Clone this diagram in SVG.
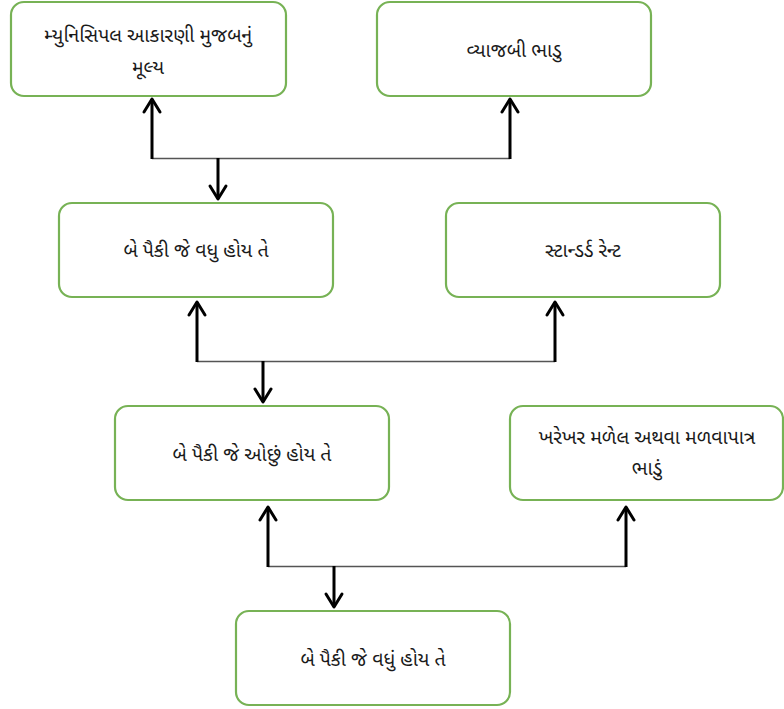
<svg xmlns="http://www.w3.org/2000/svg" width="784" height="709" viewBox="0 0 784 709">
<style>
.box{fill:#fff;stroke:#77b255;stroke-width:2.2}
.t{font-family:"Noto Sans Gujarati","Noto Sans","DejaVu Sans",sans-serif;font-size:19.5px;fill:#1a1a1a;text-anchor:middle;dominant-baseline:central}
.v{stroke:#000;stroke-width:3;fill:none}
.h{stroke:#555;stroke-width:1.6;fill:none}
.ah{stroke:#000;stroke-width:3;fill:none;stroke-linecap:round;stroke-linejoin:round}
</style>
<rect width="784" height="709" fill="#fff"/>
<g id="n1"><rect class="box" x="11" y="2" width="275" height="94" rx="13"/><text class="t" x="148" y="37">મ્યુનિસિપલ આકારણી મુજબનું</text><text class="t" x="148" y="69">મૂલ્ય</text></g>
<g id="n2"><rect class="box" x="377" y="2" width="274" height="94" rx="13"/><text class="t" x="514" y="52">વ્યાજબી ભાડુ</text></g>
<g id="n3"><rect class="box" x="59" y="203" width="274" height="94" rx="13"/><text class="t" x="196" y="252">બે પૈકી જે વધુ હોય તે</text></g>
<g id="n4"><rect class="box" x="446" y="203" width="274" height="94" rx="13"/><text class="t" x="583" y="252">સ્ટાન્ડર્ડ રેન્ટ</text></g>
<g id="n5"><rect class="box" x="115" y="406" width="274" height="94" rx="13"/><text class="t" x="252" y="456">બે પૈકી જે ઓછું હોય તે</text></g>
<g id="n6"><rect class="box" x="510" y="406" width="273" height="94" rx="13"/><text class="t" x="647" y="439">ખરેખર મળેલ અથવા મળવાપાત્ર</text><text class="t" x="647" y="470">ભાડું</text></g>
<g id="n7"><rect class="box" x="236" y="611" width="274" height="94" rx="13"/><text class="t" x="373" y="661">બે પૈકી જે વધું હોય તે</text></g>
<g id="connectors">
<line class="h" x1="152" y1="158.5" x2="510" y2="158.5"/>
<line class="v" x1="152" y1="159" x2="152" y2="99"/><path class="ah" d="M144 112 L152 99 L160 112"/>
<line class="v" x1="510" y1="159" x2="510" y2="99"/><path class="ah" d="M502 112 L510 99 L518 112"/>
<line class="v" x1="218" y1="158" x2="218" y2="199"/><path class="ah" d="M210 186 L218 199 L226 186"/>
<line class="h" x1="197" y1="361.5" x2="555" y2="361.5"/>
<line class="v" x1="197" y1="362" x2="197" y2="302"/><path class="ah" d="M189 315 L197 302 L205 315"/>
<line class="v" x1="555" y1="362" x2="555" y2="302"/><path class="ah" d="M547 315 L555 302 L563 315"/>
<line class="v" x1="263" y1="361" x2="263" y2="402"/><path class="ah" d="M255 389 L263 402 L271 389"/>
<line class="h" x1="268" y1="566.5" x2="626" y2="566.5"/>
<line class="v" x1="268" y1="567" x2="268" y2="507"/><path class="ah" d="M260 520 L268 507 L276 520"/>
<line class="v" x1="626" y1="567" x2="626" y2="507"/><path class="ah" d="M618 520 L626 507 L634 520"/>
<line class="v" x1="334" y1="566" x2="334" y2="607"/><path class="ah" d="M326 594 L334 607 L342 594"/>
</g>
</svg>
